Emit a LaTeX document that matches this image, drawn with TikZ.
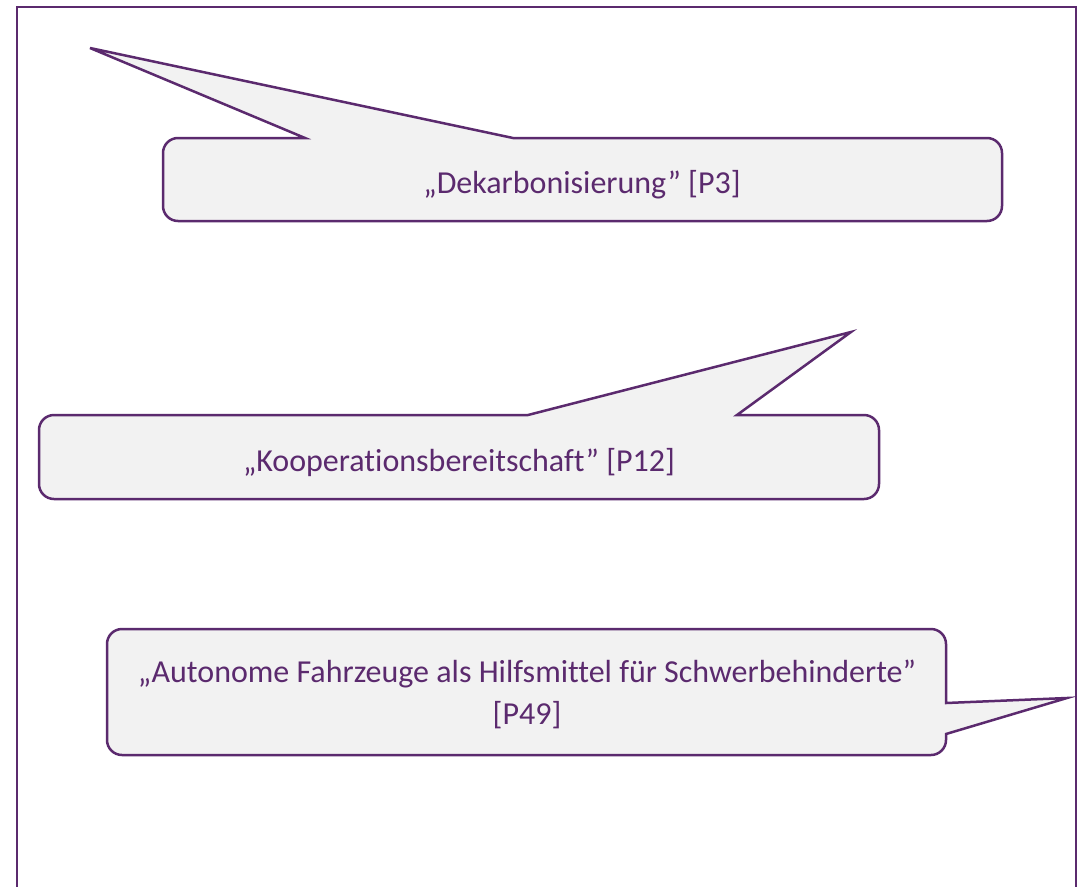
\documentclass[tikz,border=0pt]{standalone}
\usepackage{fontspec}
\setmainfont[Ligatures=NoCommon]{Carlito}
\usepackage{tikz}
\usetikzlibrary{calc}

\definecolor{lila}{RGB}{91,42,110}
\definecolor{blasegrau}{RGB}{242,242,242}

\tikzset{
  Blase/.style     = {draw=lila, fill=blasegrau, line width=2.5pt, line join=miter},
  BlaseText/.style = {text=lila, align=center, inner sep=0pt,
                      font=\fontsize{32}{42}\selectfont},
  Rahmen/.style    = {draw=lila, line width=2.8pt}
}

\begin{document}
\begin{tikzpicture}[x=1pt,y=-1pt]
  \useasboundingbox (0,0) rectangle (1081,886);
  \clip (0,0) rectangle (1081,886);
  %% Rahmen, unten offen
  \draw[Rahmen] (17,900) -- (17,7) -- (1076,7) -- (1076,900);
  %% Blase P3, Spitze nach links oben
  \draw[Blase] (580,221) [rounded corners=15pt] -- (163,221) -- (163,138)
    [sharp corners] -- (305,138) -- (90,48) -- (513,138)
    [rounded corners=15pt] -- (1002,138) -- (1002,221) -- cycle;
  \node[BlaseText, anchor=base] (dekarb) at (582,193)
    {„Dekarbonisierung” [P3]};
  %% Blase P12, Spitze nach rechts oben
  \draw[Blase] (460,499) [rounded corners=15pt] -- (39,499) -- (39,415)
    [sharp corners] -- (528,415) -- (851,332) -- (737,415)
    [rounded corners=15pt] -- (879,415) -- (879,499) -- cycle;
  \node[BlaseText, anchor=base] (koop) at (459,471)
    {„Kooperationsbereitschaft” [P12]};
  %% Blase P49, Spitze nach rechts
  \draw[Blase] (520,755) [rounded corners=15pt] -- (107,755) -- (107,629) -- (946,629)
    [sharp corners] -- (946,703) -- (1067,698) -- (946,734)
    [rounded corners=15pt] -- (946,755) -- cycle;
  \node[BlaseText, anchor=base] (autonom) at (527,724)
    {„Autonome Fahrzeuge als Hilfsmittel für Schwerbehinderte”\\{[P49]}};
\end{tikzpicture}
\end{document}
